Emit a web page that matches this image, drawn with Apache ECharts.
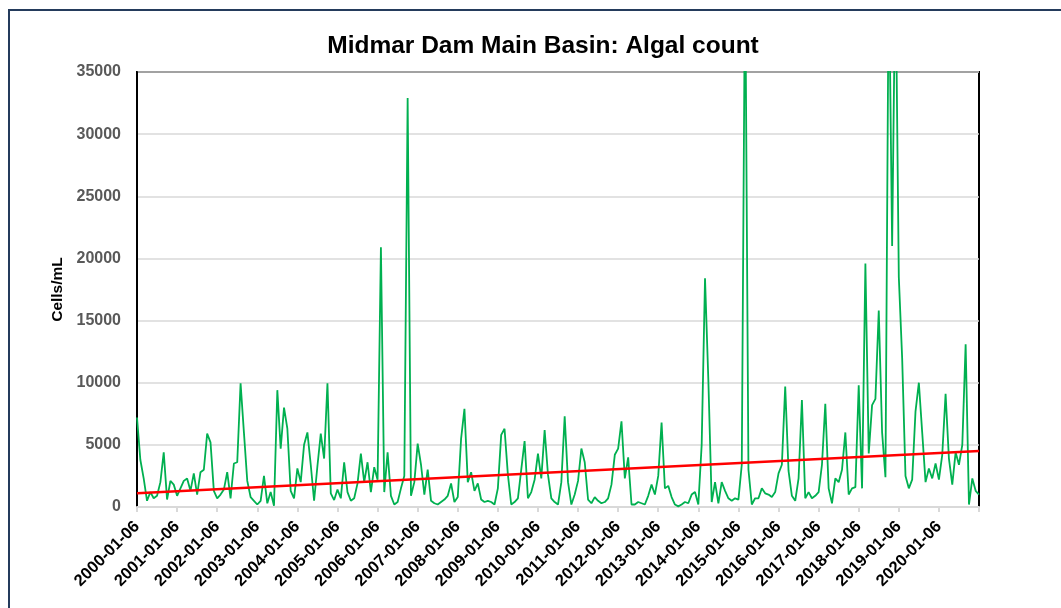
<!DOCTYPE html>
<html lang="en">

<head>
  <meta charset="UTF-8">
  <title>Midmar Dam Main Basin: Algal count</title>
  <script src="https://cdn.jsdelivr.net/npm/echarts@6/dist/echarts.min.js"></script>
  <style>
    * {
      margin: 0;
      padding: 0;
      box-sizing: border-box;
    }

    #chart {
      width: 1061px;
      height: 608px;
      background: #fff;
    }
  </style>
</head>

<body>
  <div id="chart"></div>

  <script>
    // monthly samples, one row per year (2000-01 .. 2021-01)
    const algalCount = [
      7200, 3800, 2300, 500, 1200, 700, 900, 2000, 4400, 600, 2100, 1800,
      900, 1500, 2100, 2300, 1300, 2700, 1000, 2800, 3000, 5900, 5200, 1300,
      700, 1000, 1400, 2800, 700, 3500, 3600, 9950, 6000, 2100, 800, 500,
      200, 500, 2500, 300, 1200, 100, 9400, 4700, 8000, 6300, 1300, 700,
      3100, 2000, 5000, 6000, 3400, 500, 3300, 5900, 3900, 9950, 1100, 560,
      1400, 700, 3600, 1200, 500, 700, 1900, 4300, 2000, 3600, 1200, 3200,
      2200, 20900, 1200, 4400, 900, 200, 400, 1500, 2500, 32900, 900, 2000,
      5100, 3400, 1000, 3000, 500, 300, 200, 400, 600, 900, 1900, 400,
      800, 5500, 7900, 2000, 2800, 1300, 1900, 600, 400, 500, 400, 200,
      1500, 5800, 6300, 2600, 200, 400, 700, 3000, 5300, 700, 1200, 2200,
      4300, 2300, 6200, 2600, 700, 400, 200, 2000, 7300, 2000, 200, 1000,
      2100, 4700, 3600, 600, 300, 800, 500, 300, 400, 700, 1800, 4200,
      4700, 6900, 2300, 4000, 200, 200, 400, 300, 200, 900, 1800, 1000,
      2500, 6800, 1500, 1700, 800, 200, 50, 200, 400, 300, 1000, 1200,
      200, 5000, 18400, 10200, 400, 2000, 300, 2000, 1300, 700, 500, 700,
      600, 3400, 44000, 3000, 200, 700, 700, 1500, 1100, 1000, 800, 1200,
      2700, 3400, 9700, 2900, 900, 500, 2300, 8600, 700, 1200, 700, 900,
      1200, 3400, 8300, 1500, 300, 2300, 2000, 3000, 6000, 1000, 1500, 1600,
      9800, 1500, 19600, 4300, 8200, 8700, 15800, 6000, 2400, 44000, 21000, 44000,
      18500, 12000, 2500, 1500, 2200, 7700, 10000, 6000, 2000, 3100, 2300, 3500,
      2200, 4200, 9100, 3900, 1800, 4400, 3400, 5000, 13100, 200, 2300, 1300,
      1000
    ];

    // linear trend line, start and end values
    const trendEnds = [1100, 4500];

    const startYear = 2000;
    const dates = [];
    for (let i = 0; i < algalCount.length; i++) {
      const y = startYear + Math.floor(i / 12);
      const m = String(i % 12 + 1).padStart(2, '0');
      dates.push(`${y}-${m}-06`);
    }
    const lastIdx = dates.length - 1;

    const myChart = echarts.init(document.getElementById('chart'));

    const option = {
      backgroundColor: '#fff',
      animation: false,
      title: {
        text: 'Midmar Dam Main Basin: Algal count',
        left: 538,
        top: 29,
        textAlign: 'center',
        textStyle: {
          fontFamily: 'Liberation Sans',
          fontSize: 24.5,
          fontWeight: 'bold',
          color: '#000'
        }
      },
      graphic: [{
        type: 'rect',
        shape: { x: 9, y: 10, width: 1100, height: 700 },
        style: { fill: 'none', stroke: '#243b5c', lineWidth: 2 },
        silent: true
      }],
      grid: {
        left: 137,
        right: 82,
        top: 72,
        bottom: 101,
        show: true,
        borderColor: '#000',
        borderWidth: 2
      },
      xAxis: {
        type: 'category',
        data: dates,
        boundaryGap: false,
        axisLine: { lineStyle: { color: '#d9d9d9', width: 2 } },
        axisTick: {
          interval: 11,
          length: 5,
          lineStyle: { color: '#d9d9d9', width: 2 }
        },
        axisLabel: {
          interval: (idx) => idx % 12 === 0 && idx < lastIdx,
          rotate: 45,
          margin: 17,
          fontFamily: 'Liberation Sans',
          fontSize: 16.5,
          fontWeight: 'bold',
          color: '#000'
        },
        splitLine: { show: false }
      },
      yAxis: {
        type: 'value',
        min: 0,
        max: 35000,
        interval: 5000,
        name: 'Cells/mL',
        nameLocation: 'middle',
        nameGap: 68,
        nameTextStyle: {
          fontFamily: 'Liberation Sans',
          fontSize: 15.5,
          fontWeight: 'bold',
          color: '#000'
        },
        axisLine: { show: true, lineStyle: { color: '#000', width: 2 } },
        axisTick: { show: false },
        axisLabel: {
          margin: 16,
          formatter: (v) => String(v),
          fontFamily: 'Liberation Sans',
          fontSize: 16,
          fontWeight: 'bold',
          color: '#595959'
        },
        splitLine: { lineStyle: { color: '#d9d9d9', width: 1.5 } }
      },
      series: [{
        name: 'Algal count',
        type: 'line',
        data: algalCount,
        showSymbol: false,
        symbol: 'none',
        clip: true,
        lineStyle: { color: '#00b050', width: 1.8 },
        markLine: {
          silent: true,
          symbol: 'none',
          label: { show: false },
          lineStyle: { color: '#ff0000', width: 2.5, type: 'solid' },
          data: [[
            { coord: [0, trendEnds[0]] },
            { coord: [lastIdx, trendEnds[1]] }
          ]]
        }
      }]
    };

    myChart.setOption(option);
  </script>
</body>

</html>
